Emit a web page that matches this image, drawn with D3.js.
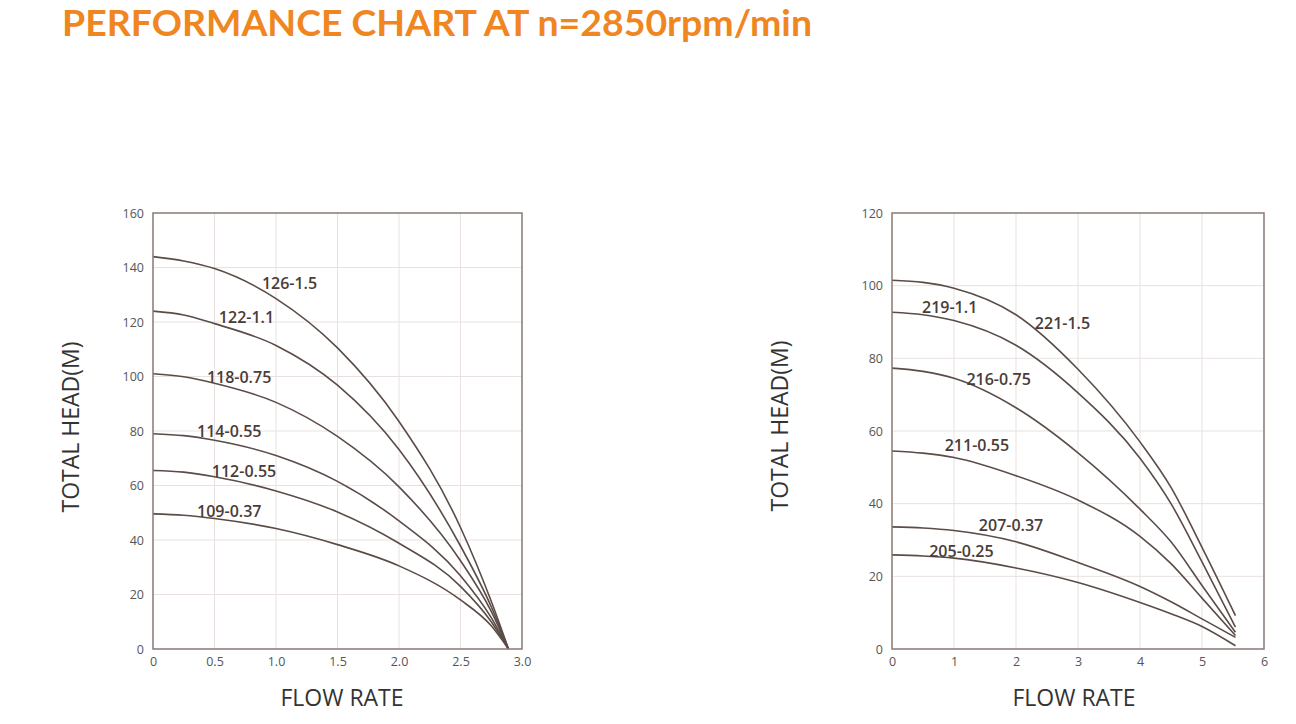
<!DOCTYPE html>
<html>
<head>
<meta charset="utf-8">
<script src="https://cdn.jsdelivr.net/npm/d3@7"></script>
<style>
body { margin: 0; background: #fff; }
svg { display: block; font-family: "Open Sans", "Noto Sans", sans-serif; }
.tick text { fill: #555; font-size: 12.5px; font-family: "Open Sans", sans-serif; }
.curve-label { fill: #4a3c38; font-size: 16px; font-weight: 600; }
.axis-title { fill: #333; font-size: 23px; font-weight: 500; }
</style>
</head>
<body>
<svg id="chart" width="1296" height="724"></svg>
<script>
// ---- data ----
const leftFlow = [0, 0.25, 0.5, 1.0, 1.5, 2.0, 2.5, 2.75, 2.89]
const leftModels = ["126-1.5", "122-1.1", "118-0.75", "114-0.55", "112-0.55", "109-0.37"]
const leftHeads = [
    [144, 142.4, 139.6, 128.6, 110.5, 83.5, 44.6, 17.5, 0],
    [124, 122.6, 119.4, 111.4, 96.8, 73.2, 37.8, 15.5, 0],
    [101, 99.9, 97.5, 90.5, 78, 59.5, 32.4, 13.8, 0],
    [79, 78.3, 76.6, 71, 61.5, 47, 26.9, 11.5, 0],
    [65.5, 64.9, 63.2, 58, 50.3, 38.8, 23, 10, 0],
    [49.6, 49.1, 47.9, 44.2, 38.3, 30.5, 18, 8.5, 0]
]
const leftXTicks = [0, 0.5, 1.0, 1.5, 2.0, 2.5, 3.0]
const leftYTicks = [0, 20, 40, 60, 80, 100, 120, 140, 160]

const rightFlow = [0, 0.5, 1, 2, 3, 4, 4.5, 5, 5.54]
const rightModels = ["221-1.5", "219-1.1", "216-0.75", "211-0.55", "207-0.37", "205-0.25"]
const rightHeads = [
    [101.5, 100.9, 99.3, 92, 77, 57, 44.5, 28, 9.2],
    [92.7, 92.0, 90.4, 83.6, 70.5, 52.5, 40, 24, 6.0],
    [77.3, 76.4, 74.5, 66.4, 54, 38.5, 29.5, 17.5, 4.6],
    [54.5, 53.9, 52.7, 47.7, 41, 31, 23.5, 14, 3.7],
    [33.6, 33.3, 32.6, 29.5, 23.8, 17.2, 13, 8.3, 3.2],
    [25.9, 25.6, 25, 22.3, 18.3, 12.8, 9.7, 6.2, 0.9]
]
const rightXTicks = [0, 1, 2, 3, 4, 5, 6]
const rightYTicks = [0, 20, 40, 60, 80, 100, 120]

// label anchors (centre of text, in data units)
const leftLabelAt = [[1.11, 134.3], [0.76, 121.8], [0.70, 99.8], [0.62, 80], [0.74, 65], [0.62, 50.6]]
const rightLabelAt = [[2.75, 89.7], [0.93, 93.9], [1.72, 74.3], [1.37, 55.9], [1.92, 34.1], [1.12, 27]]

const GRID_COLOR = "#e9e1df"
const FRAME_COLOR = "#8a7d78"
const CURVE_COLOR = "#5b4c47"

const svg = d3.select("#chart")

svg.append("text")
    .attr("x", 62)
    .attr("y", 35.6)
    .attr("textLength", 750)
    .attr("lengthAdjust", "spacingAndGlyphs")
    .style("font-family", "Lato, 'Open Sans', sans-serif")
    .style("font-size", "36px")
    .style("font-weight", 700)
    .style("fill", "#f0861f")
    .text("PERFORMANCE CHART AT n=2850rpm/min")

function drawPanel(p) {
    var x = d3.scaleLinear().domain(p.xDomain).range([p.left, p.right])
    var y = d3.scaleLinear().domain(p.yDomain).range([p.bottom, p.top])
    var g = svg.append("g")

    g.selectAll(".vgrid")
        .data(p.xTicks)
        .enter().append("line")
        .attr("x1", d => x(d)).attr("x2", d => x(d))
        .attr("y1", p.top).attr("y2", p.bottom)
        .style("stroke", GRID_COLOR)
        .style("stroke-width", 1)

    g.selectAll(".hgrid")
        .data(p.yTicks)
        .enter().append("line")
        .attr("x1", p.left).attr("x2", p.right)
        .attr("y1", d => y(d)).attr("y2", d => y(d))
        .style("stroke", GRID_COLOR)
        .style("stroke-width", 1)

    var line = d3.line()
        .x((d, i) => x(p.flow[i]))
        .y(d => y(d))
        .curve(d3.curveMonotoneX)

    g.selectAll(".curve")
        .data(p.heads)
        .enter().append("path")
        .attr("d", line)
        .style("fill", "none")
        .style("stroke", CURVE_COLOR)
        .style("stroke-width", 1.6)

    g.append("rect")
        .attr("x", p.left).attr("y", p.top)
        .attr("width", p.right - p.left)
        .attr("height", p.bottom - p.top)
        .style("fill", "none")
        .style("stroke", FRAME_COLOR)
        .style("stroke-width", 1.5)

    g.selectAll(".curve-label")
        .data(p.models)
        .enter().append("text")
        .attr("class", "curve-label")
        .attr("x", (d, i) => x(p.labelAt[i][0]))
        .attr("y", (d, i) => y(p.labelAt[i][1]))
        .attr("dy", "0.35em")
        .style("text-anchor", "middle")
        .text(d => d)

    var xAxis = g.append("g")
        .attr("transform", "translate(0," + p.bottom + ")")
        .call(d3.axisBottom(x).tickValues(p.xTicks).tickSize(0).tickPadding(8).tickFormat(p.xFormat))
    xAxis.select(".domain").remove()

    var yAxis = g.append("g")
        .attr("transform", "translate(" + p.left + ",0)")
        .call(d3.axisLeft(y).tickValues(p.yTicks).tickSize(0).tickPadding(9))
    yAxis.select(".domain").remove()

    g.append("text")
        .attr("class", "axis-title")
        .attr("transform", "translate(" + p.yTitleX + "," + p.yTitleY + ") rotate(-90)")
        .attr("dy", "0.35em")
        .style("text-anchor", "middle")
        .text("TOTAL HEAD(M)")

    g.append("text")
        .attr("class", "axis-title")
        .attr("x", p.xTitleX)
        .attr("y", 698)
        .attr("dy", "0.35em")
        .style("text-anchor", "middle")
        .text("FLOW RATE")
}

drawPanel({
    left: 153, right: 522, top: 213, bottom: 649,
    xDomain: [0, 3], yDomain: [0, 160],
    xTicks: leftXTicks, yTicks: leftYTicks,
    xFormat: d => d === 0 ? "0" : d3.format(".1f")(d),
    flow: leftFlow, heads: leftHeads, models: leftModels, labelAt: leftLabelAt,
    yTitleX: 71, yTitleY: 427, xTitleX: 342
})

drawPanel({
    left: 892, right: 1264, top: 213, bottom: 649,
    xDomain: [0, 6], yDomain: [0, 120],
    xTicks: rightXTicks, yTicks: rightYTicks,
    xFormat: d3.format("d"),
    flow: rightFlow, heads: rightHeads, models: rightModels, labelAt: rightLabelAt,
    yTitleX: 780, yTitleY: 426, xTitleX: 1074
})
</script>
</body>
</html>
